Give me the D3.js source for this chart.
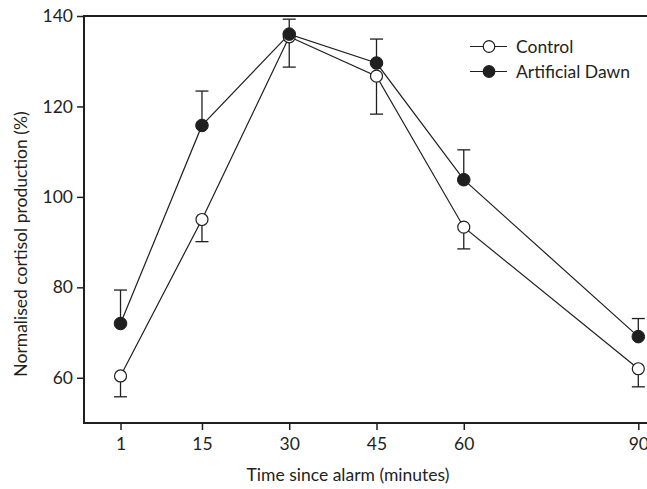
<!DOCTYPE html>
<html>
<head>
<meta charset="utf-8">
<script src="https://cdn.jsdelivr.net/npm/d3@7"></script>
<style>
  body { margin: 0; background: #fff; }
  svg text { font-family: Lato, "Open Sans", sans-serif; fill: #231f20; }
</style>
</head>
<body>
<svg id="chart" width="647" height="489"></svg>
<script>
const times = [1, 15, 30, 45, 60, 90];
const controlMean = [60.4, 95.0, 135.4, 126.7, 93.3, 62.0];
const controlLow = [55.8, 90.1, 128.7, 118.3, 88.5, 58.0];
const dawnMean = [72.0, 115.8, 136.0, 129.6, 103.8, 69.1];
const dawnHigh = [79.4, 123.4, 139.3, 134.9, 110.4, 73.1];
const xTicks = [1, 15, 30, 45, 60, 90];
const yTicks = [60, 80, 100, 120, 140];
const seriesNames = ['Control', 'Artificial Dawn'];

const ink = '#1f1f1f';
const svg = d3.select('#chart');

const x = d3.scaleLinear().domain([0, 90]).range([114.7, 638.3]);
const y = d3.scaleLinear().domain([50, 140]).range([423, 16]);

const frameLeft = 84, frameTop = 16, frameBottom = 423;

// frame (right side runs off the page)
svg.append('path')
    .attr('d', `M700,${frameTop}H${frameLeft}V${frameBottom}H700`)
    .attr('fill', 'none')
    .attr('stroke', ink)
    .attr('stroke-width', 2);

// y axis
const yAxis = svg.append('g')
    .attr('transform', `translate(${frameLeft},0)`)
    .call(d3.axisLeft(y).tickValues(yTicks).tickSize(7).tickPadding(4));
yAxis.select('.domain').remove();
yAxis.selectAll('.tick line').attr('stroke', ink).attr('stroke-width', 1.5);
yAxis.selectAll('.tick text')
    .style('font-size', '17.5px')
    .attr('fill', ink);

// x axis (the 90 label runs off the right edge, as in the original)
const xAxis = svg.append('g')
    .attr('transform', `translate(0,${frameBottom})`)
    .call(d3.axisBottom(x).tickValues(xTicks).tickSize(7).tickPadding(8));
xAxis.select('.domain').remove();
xAxis.selectAll('.tick line').attr('stroke', ink).attr('stroke-width', 1.5);
xAxis.selectAll('.tick text')
    .style('font-size', '17.5px')
    .attr('fill', ink);

// axis titles
svg.append('text')
    .attr('x', 348)
    .attr('y', 481)
    .attr('text-anchor', 'middle')
    .style('font-size', '17.5px')
    .text('Time since alarm (minutes)');

svg.append('text')
    .attr('transform', 'translate(27,244) rotate(-90)')
    .attr('text-anchor', 'middle')
    .style('font-size', '17.5px')
    .text('Normalised cortisol production (%)');

const control = times.map((t, i) => ({t, v: controlMean[i], e: controlLow[i]}));
const dawn = times.map((t, i) => ({t, v: dawnMean[i], e: dawnHigh[i]}));

const line = d3.line().x(d => x(d.t)).y(d => y(d.v));

const plot = svg.append('g');

[control, dawn].forEach(series => {
    plot.append('path')
        .datum(series)
        .attr('d', line)
        .attr('fill', 'none')
        .attr('stroke', ink)
        .attr('stroke-width', 1.2);
});

// error bars: control below, dawn above
[control, dawn].forEach(series => {
    const g = plot.append('g');
    g.selectAll('line.bar')
        .data(series)
        .enter().append('line')
        .attr('x1', d => x(d.t)).attr('x2', d => x(d.t))
        .attr('y1', d => y(d.v)).attr('y2', d => y(d.e))
        .attr('stroke', ink).attr('stroke-width', 1.3);
    g.selectAll('line.cap')
        .data(series)
        .enter().append('line')
        .attr('x1', d => x(d.t) - 6.5).attr('x2', d => x(d.t) + 6.5)
        .attr('y1', d => y(d.e)).attr('y2', d => y(d.e))
        .attr('stroke', ink).attr('stroke-width', 1.3);
});

plot.selectAll('circle.control')
    .data(control)
    .enter().append('circle')
    .attr('cx', d => x(d.t)).attr('cy', d => y(d.v)).attr('r', 6)
    .attr('fill', '#fff').attr('stroke', ink).attr('stroke-width', 1.2);

plot.selectAll('circle.dawn')
    .data(dawn)
    .enter().append('circle')
    .attr('cx', d => x(d.t)).attr('cy', d => y(d.v)).attr('r', 6.3)
    .attr('fill', ink).attr('stroke', ink).attr('stroke-width', 1);

// legend
const legend = svg.append('g');
seriesNames.forEach((name, i) => {
    const ly = 46.5 + i * 25;
    legend.append('line')
        .attr('x1', 470).attr('x2', 507)
        .attr('y1', ly).attr('y2', ly)
        .attr('stroke', ink).attr('stroke-width', 1.2);
    legend.append('circle')
        .attr('cx', 489).attr('cy', ly).attr('r', 5.8)
        .attr('fill', i === 0 ? '#fff' : ink)
        .attr('stroke', ink).attr('stroke-width', 1.2);
    legend.append('text')
        .attr('x', 516).attr('y', ly)
        .attr('dy', '0.35em')
        .style('font-size', '17.5px')
        .text(name);
});
</script>
</body>
</html>
